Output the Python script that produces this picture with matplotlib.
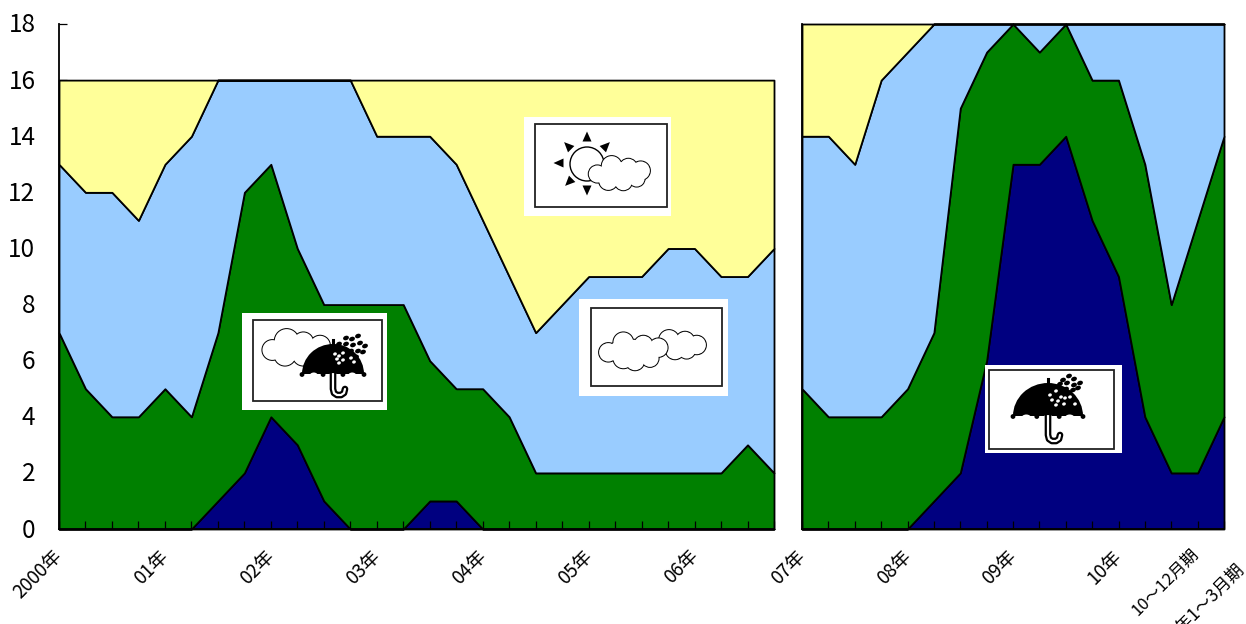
import numpy as np
import matplotlib
matplotlib.use('Agg')
import matplotlib.pyplot as plt
from matplotlib.patches import Circle, Rectangle, Polygon, Wedge, Ellipse
from matplotlib.transforms import Affine2D, ScaledTranslation

plt.rcParams['font.family'] = ['Noto Sans CJK JP', 'DejaVu Sans']

# cumulative tops of each band, quarterly
left_navy = [0, 0, 0, 0, 0, 0, 1, 2, 4, 3, 1, 0, 0, 0, 1, 1, 0, 0, 0, 0, 0, 0, 0, 0, 0, 0, 0, 0]
left_green = [7, 5, 4, 4, 5, 4, 7, 12, 13, 10, 8, 8, 8, 8, 6, 5, 5, 4, 2, 2, 2, 2, 2, 2, 2, 2, 3, 2]
left_blue = [13, 12, 12, 11, 13, 14, 16, 16, 16, 16, 16, 16, 14, 14, 14, 13, 11, 9, 7, 8, 9, 9, 9, 10, 10, 9, 9, 10]
left_yellow = [16] * 28

right_navy = [0, 0, 0, 0, 0, 1, 2, 6, 13, 13, 14, 11, 9, 4, 2, 2, 4]
right_green = [5, 4, 4, 4, 5, 7, 15, 17, 18, 17, 18, 16, 16, 13, 8, 11, 14]
right_blue = [14, 14, 13, 16, 17, 18, 18, 18, 18, 18, 18, 18, 18, 18, 18, 18, 18]
right_yellow = [18] * 17

left_labels = ['2000年', '01年', '02年', '03年', '04年', '05年', '06年']
right_labels = ['07年', '08年', '09年', '10年']
last_labels = ['10\uff5e12月期', '11年1\uff5e3月期']
y_ticks = [0, 2, 4, 6, 8, 10, 12, 14, 16, 18]

colors = ['#000080', '#008000', '#99CCFF', '#FFFF99']
W, H = 1246, 624


def make_axes(fig, x0, x1, top=24, bottom=529):
    return fig.add_axes([x0 / W, 1 - bottom / H, (x1 - x0) / W, (bottom - top) / H])


def draw_bands(ax, bands):
    x = np.arange(len(bands[0]))
    lower = np.zeros(len(x))
    for top, col in zip(bands, colors):
        ax.fill_between(x, lower, top, facecolor=col, edgecolor='black', linewidth=1.3,
                        clip_on=False, zorder=1)
        lower = np.array(top, dtype=float)
    ax.set_xlim(0, len(x) - 1)
    ax.set_ylim(0, 18)
    for s in ['top', 'right']:
        ax.spines[s].set_visible(False)
    ax.spines['left'].set_linewidth(1.3)
    ax.spines['bottom'].set_linewidth(1.3)
    ax.xaxis.set_zorder(5)
    ax.yaxis.set_zorder(0.5)
    ax.tick_params(axis='x', direction='in', length=5.5, width=0.9, pad=12)
    ax.patch.set_visible(False)


def set_labels(ax, labels):
    ax.set_xticks(np.arange(len(labels)), labels)
    shift = ScaledTranslation(-7 / 100, 0, ax.figure.dpi_scale_trans)
    for lab in ax.get_xticklabels():
        lab.set_rotation(45)
        lab.set_ha('right')
        lab.set_rotation_mode('anchor')
        lab.set_fontsize(13.5)
        lab.set_transform(lab.get_transform() + shift)


def cloud(ov, ox, oy, lumps):
    for cx, cy, r in lumps:
        ov.add_patch(Circle((ox + cx / 3, oy + cy / 3), r / 3 + 0.9, fc='black', ec='none'))
    for cx, cy, r in lumps:
        ov.add_patch(Circle((ox + cx / 3, oy + cy / 3), r / 3 - 0.1, fc='white', ec='none'))


def frame(ov, outer, inner):
    ov.add_patch(Rectangle((outer[0], outer[1]), outer[2] - outer[0], outer[3] - outer[1],
                           fc='white', ec='none'))
    ov.add_patch(Rectangle((inner[0], inner[1]), inner[2] - inner[0], inner[3] - inner[1],
                           fc='white', ec='#222222', lw=1.3))


def umbrella(ov, cx, base, hw, h, rain, holes, hook):
    ov.add_patch(Wedge((0, 0), 1, 180, 360, fc='black', ec='none',
                       transform=Affine2D().scale(hw, h).translate(cx, base) + ov.transData))
    # scallops under the dome
    for f in [-0.62, 0.0, 0.62]:
        ov.add_patch(Ellipse((cx + f * hw, base + 1.5), hw * 0.26, 6, fc='white', ec='none'))
    for f in [-1, -0.32, 0.32, 1]:
        ov.add_patch(Circle((cx + f * hw, base + 0.5), 2.4, fc='black', ec='none'))
    ov.plot([cx, cx], [base - h - 4, base - h + 1], color='black', lw=2.2)
    hx = [cx, cx, cx + 1, cx + 4, cx + 8, cx + 11, cx + 12]
    hy = [base - 2, hook - 4, hook, hook + 2, hook + 2, hook, hook - 4]
    ov.plot(hx, hy, color='black', lw=4.8, solid_capstyle='round')
    ov.plot(hx, hy, color='white', lw=1.6, solid_capstyle='round')
    ov.plot([cx - 5, cx + 5], [base - 3, base - 3], color='black', lw=3)
    for x, y in rain:
        ov.add_patch(Ellipse((x, y), 6, 4.4, angle=-20, fc='black', ec='none'))
    for x, y in holes:
        ov.add_patch(Ellipse((x, y), 3.8, 3.2, angle=-20, fc='white', ec='none'))


def draw_icons(ov):
    # sun behind a cloud
    frame(ov, (524, 117, 671, 216), (535, 124, 667, 207))
    ov.add_patch(Circle((587, 164), 17, fc='white', ec='black', lw=1))
    for x, y, ang in [(587, 137, 0), (606, 146, -45), (568, 146, 45), (559, 163, 90),
                      (569, 182, 135), (587, 190, 180)]:
        a = np.radians(ang)
        pts = np.array([[0, -5.5], [-4.5, 4.5], [4.5, 4.5]])
        rot = np.array([[np.cos(a), np.sin(a)], [-np.sin(a), np.cos(a)]])
        ov.add_patch(Polygon(pts @ rot.T + [x, y], fc='black', ec='none'))
    cloud(ov, 520, 110, [(275, 168, 30), (325, 172, 26), (362, 182, 28), (232, 192, 26),
                         (265, 212, 28), (310, 215, 26), (350, 206, 24), (300, 190, 34)])

    # cloud and umbrella
    frame(ov, (242, 313, 387, 410), (253, 320, 382, 401))
    cloud(ov, 235, 305, [(112, 135, 30), (155, 108, 36), (205, 112, 30), (255, 122, 30),
                         (150, 150, 32), (205, 150, 32), (260, 150, 26), (160, 135, 36)])
    rain = [(346, 338), (352, 339), (358, 336), (346, 344), (353, 345), (360, 343), (365, 346),
            (351, 351), (358, 351), (363, 352), (339, 344), (344, 349), (356, 357)]
    holes = [(335, 354), (339, 356), (343, 353), (337, 359), (343, 360), (351, 358), (354, 362), (339, 363)]
    umbrella(ov, 333, 374, 31, 30, rain, holes, 393)

    # two clouds
    frame(ov, (579, 299, 728, 396), (591, 308, 722, 386))
    cloud(ov, 575, 295, [(282, 135, 30), (330, 138, 28), (365, 150, 28), (300, 165, 28),
                         (335, 165, 26), (320, 150, 30)])
    cloud(ov, 575, 295, [(100, 172, 28), (145, 142, 30), (205, 150, 28), (250, 158, 28),
                         (145, 190, 30), (180, 198, 28), (225, 190, 26), (175, 170, 36),
                         (130, 170, 30), (215, 170, 30)])

    # umbrella on its own
    frame(ov, (985, 365, 1122, 453), (989, 370, 1114, 449))
    rain = [(1063, 380), (1069, 376), (1074, 379), (1060, 384), (1067, 383), (1074, 385),
            (1080, 383), (1066, 389), (1073, 390), (1078, 388), (1055, 389), (1061, 392), (1070, 395)]
    holes = [(1050, 395), (1056, 391), (1061, 397), (1052, 400), (1058, 401), (1065, 398),
             (1070, 397), (1064, 404), (1075, 404), (1056, 405)]
    umbrella(ov, 1048, 416, 35, 33, rain, holes, 439)


fig = plt.figure(figsize=(12.46, 6.24), dpi=100)

ax1 = make_axes(fig, 59, 774)
draw_bands(ax1, [left_navy, left_green, left_blue, left_yellow])
ax1_labels = [''] * 28
for i, lab in enumerate(left_labels):
    ax1_labels[i * 4] = lab
set_labels(ax1, ax1_labels)
ax1.set_yticks(y_ticks)
ax1.tick_params(axis='y', direction='in', length=6, width=0.9, pad=17, labelsize=17.5)
for lab in ax1.get_yticklabels():
    lab.set_transform(lab.get_transform() + ScaledTranslation(0, 1.5 / 100, fig.dpi_scale_trans))

ax2 = make_axes(fig, 802, 1224)
draw_bands(ax2, [right_navy, right_green, right_blue, right_yellow])
ax2_labels = [''] * 17
for i, lab in enumerate(right_labels):
    ax2_labels[i * 4] = lab
ax2_labels[15] = last_labels[0]
set_labels(ax2, ax2_labels)
ax2.get_xticklabels()[15].set_fontsize(12)
ax2.set_yticks([])
# the last label sits lower and further right than its tick
ax2.annotate(last_labels[1], xy=(16, 0), xycoords='data', xytext=(8, -22), textcoords='offset points',
             rotation=45, ha='right', va='top', rotation_mode='anchor', fontsize=12.5, annotation_clip=False)

overlay = fig.add_axes([0, 0, 1, 1], zorder=10)
overlay.set_xlim(0, W)
overlay.set_ylim(H, 0)
overlay.axis('off')
draw_icons(overlay)

fig.savefig('out.png', dpi=100)
